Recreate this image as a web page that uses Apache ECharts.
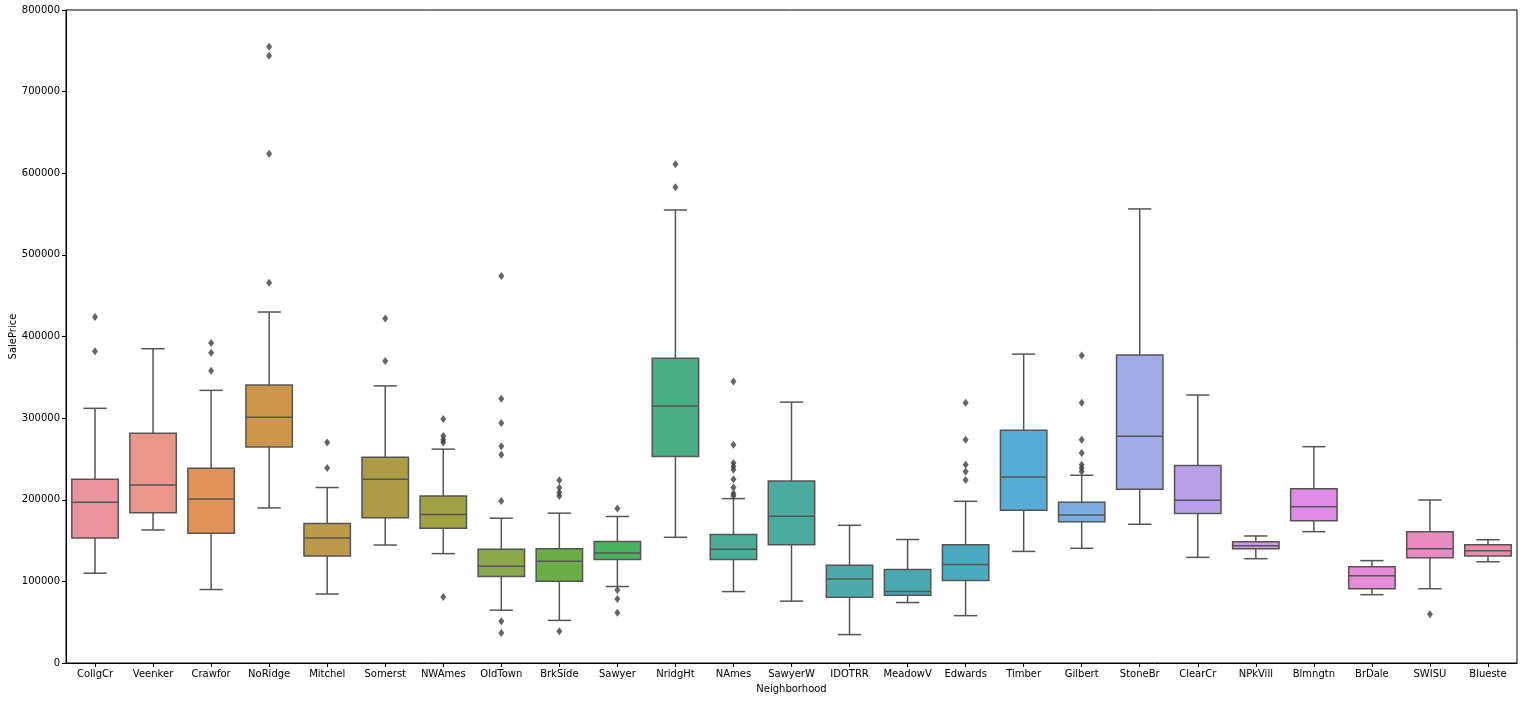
<!DOCTYPE html>
<html>
<head>
<meta charset="utf-8">
<script src="https://cdn.jsdelivr.net/npm/echarts@6/dist/echarts.min.js"></script>
<style>html,body{margin:0;padding:0;background:#fff}#c{width:1524px;height:701px}</style>
</head>
<body>
<div id="c"></div>
<script>
const categories = ["CollgCr","Veenker","Crawfor","NoRidge","Mitchel","Somerst","NWAmes","OldTown","BrkSide","Sawyer","NridgHt","NAmes","SawyerW","IDOTRR","MeadowV","Edwards","Timber","Gilbert","StoneBr","ClearCr","NPkVill","Blmngtn","BrDale","SWISU","Blueste"];
const whiskerLow = [110000,163000,90000,190000,84500,144500,134000,64700,52200,93700,154000,87500,75800,34800,74100,58000,136700,140500,170000,129400,127800,160900,83700,91000,124000];
const q1 =        [153000,184000,159000,264500,131000,178000,165000,106000,100300,126800,253000,126800,145000,80400,82900,101000,187000,173200,213000,183200,140000,174300,91000,129000,131000];
const median =    [197000,218000,201000,301000,153000,225000,182000,118600,124700,134800,315000,139300,179900,102800,87500,120700,228000,181200,277700,199300,143700,191500,107000,140000,137600];
const q3 =        [225000,281500,238500,340500,171000,252000,204500,139300,140000,148800,373500,157500,223000,119800,114400,145000,285200,196900,377200,242000,148600,213500,118000,160900,145000];
const whiskerHigh=[312000,385000,334000,430000,215000,339500,262000,177400,183600,179500,555000,201400,319600,168700,151300,198100,378400,230000,556300,328300,155600,265000,125400,199700,151000];
const outliers = [
  [424000,382000],
  [],
  [392000,380000,358000],
  [755000,744000,624000,466000],
  [270000,239000],
  [422000,370000],
  [299000,278000,273500,270000,81000],
  [474000,323800,294000,265400,255000,198600,51300,36900],
  [224000,214700,208900,204700,39000],
  [189400,89400,78400,61700],
  [611000,582900],
  [344900,267300,245000,240800,236700,225000,215000,207600,204700],
  [],
  [],
  [],
  [318800,273600,243000,234600,224200],
  [],
  [376800,318800,273600,257400,243000,238800,234600],
  [],
  [],
  [],
  [],
  [],
  [59600],
  []
];
const yTicks = [0,100000,200000,300000,400000,500000,600000,700000,800000];

const palette = ["#e8949f","#e8978a","#e2915a","#cc964b","#ba9a4a","#ac9c46","#9ea244","#8ca749","#6eac47","#47b25f","#49ae84","#4aae94","#4aac9f","#4aaba8","#4aa9b0","#4aa9be","#55acd6","#7aacdf","#a2aae8","#b7a0e8","#cc99e6","#e08ce6","#e68cd6","#e68cc0","#e88cae"];
const lineColor = '#555555';

const boxData = categories.map((c,i)=>[i, whiskerLow[i], q1[i], median[i], q3[i], whiskerHigh[i]]);
const outlierData = [];
outliers.forEach((arr,i)=>arr.forEach(v=>outlierData.push([i,v])));

const chart = echarts.init(document.getElementById('c'), null, {renderer:'canvas'});
const font = 'DejaVu Sans';
chart.setOption({
  animation:false,
  backgroundColor:'#fff',
  textStyle:{fontFamily:font},
  grid:{left:66,right:7,top:10,bottom:38,containLabel:false,outerBoundsMode:'none',show:true,borderColor:'#000',borderWidth:1,backgroundColor:'transparent'},
  xAxis:{
    type:'category', data:categories, boundaryGap:true,
    name:'Neighborhood', nameLocation:'middle', nameGap:21, nameMoveOverlap:false,
    nameTextStyle:{fontSize:10,color:'#000',fontFamily:font},
    axisLine:{show:true,lineStyle:{color:'#000',width:1}},
    axisTick:{show:true,alignWithLabel:true,length:4,lineStyle:{color:'#000'}},
    axisLabel:{fontSize:10,color:'#000',fontFamily:font,margin:6,interval:0},
    splitLine:{show:false}
  },
  yAxis:{
    type:'value', min:0, max:800000, interval:100000,
    name:'SalePrice', nameLocation:'middle', nameGap:48, nameRotate:90, nameMoveOverlap:false,
    nameTextStyle:{fontSize:10,color:'#000',fontFamily:font},
    axisLine:{show:true,lineStyle:{color:'#000',width:1}},
    axisTick:{show:true,length:4,lineStyle:{color:'#000'}},
    axisLabel:{fontSize:10,color:'#000',fontFamily:font,margin:6,
      formatter:v=>yTicks.includes(v)?String(v):''},
    splitLine:{show:false}
  },
  series:[
    {
      type:'custom',
      data:boxData,
      encode:{x:0,y:[1,2,3,4,5]},
      z:2,
      renderItem:function(params, api){
        const i = api.value(0);
        const band = api.size([1,0])[0];
        const bw = band*0.8;
        const x = api.coord([i,0])[0];
        const pLo = api.coord([i,api.value(1)])[1];
        const pQ1 = api.coord([i,api.value(2)])[1];
        const pMed = api.coord([i,api.value(3)])[1];
        const pQ3 = api.coord([i,api.value(4)])[1];
        const pHi = api.coord([i,api.value(5)])[1];
        const ls = {stroke:lineColor,lineWidth:1.5,fill:null};
        const cw = bw/4;
        return {type:'group',children:[
          {type:'line',shape:{x1:x,y1:pQ3,x2:x,y2:pHi},style:ls},
          {type:'line',shape:{x1:x,y1:pQ1,x2:x,y2:pLo},style:ls},
          {type:'line',shape:{x1:x-cw,y1:pHi,x2:x+cw,y2:pHi},style:ls},
          {type:'line',shape:{x1:x-cw,y1:pLo,x2:x+cw,y2:pLo},style:ls},
          {type:'rect',shape:{x:x-bw/2,y:pQ3,width:bw,height:pQ1-pQ3},style:{fill:palette[i],stroke:lineColor,lineWidth:1.5}},
          {type:'line',shape:{x1:x-bw/2,y1:pMed,x2:x+bw/2,y2:pMed},style:ls}
        ]};
      }
    },
    {
      type:'scatter',
      data:outlierData,
      symbol:'diamond',
      symbolSize:[6,8],
      itemStyle:{color:'#3d3d3d'},
      z:3
    }
  ]
});
</script>
</body>
</html>
